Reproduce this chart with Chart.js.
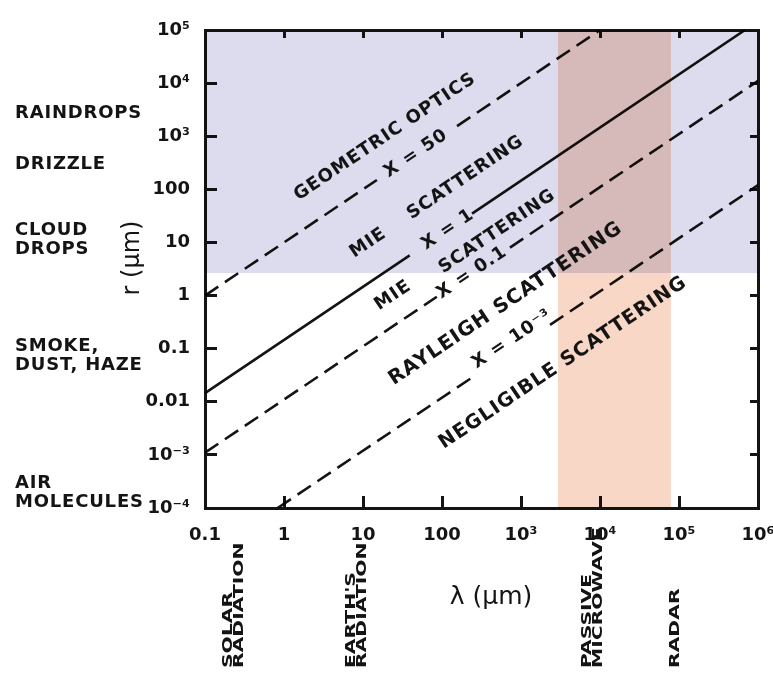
<!DOCTYPE html>
<html>
<head>
<meta charset="utf-8">
<script src="https://cdn.jsdelivr.net/npm/chart.js@4/dist/chart.umd.min.js"></script>
<style>
  html, body { margin: 0; padding: 0; background: #fff; }
  canvas { display: block; }
</style>
</head>
<body>
<canvas id="scatterChart" width="773" height="678"></canvas>
<script>
// Axis ticks (decades only)
const xTickValues = [0.1, 1, 10, 100, 1e3, 1e4, 1e5, 1e6];
const xTickLabels = ['0.1', '1', '10', '100', '10³', '10⁴', '10⁵', '10⁶'];
const yTickValues = [1e-4, 1e-3, 0.01, 0.1, 1, 10, 100, 1e3, 1e4, 1e5];
const yTickLabels = ['10⁻⁴', '10⁻³', '0.01', '0.1', '1', '10', '100', '10³', '10⁴', '10⁵'];

// Size parameter lines [lambda, r]; a null r breaks the line for its label
const lineX50 = [[0.1, 1], [15, 150], [40, null], [155, 1550], [1e4, 1e5]];
const lineX1 = [[0.1, 0.0146], [39, 5.7], [100, null], [240, 35], [6.85e5, 1e5]];
const lineX01 = [[0.1, 1.1e-3], [86, 0.95], [250, null], [725, 8.0], [1e6, 1.1e4]];
const lineX0001 = [[0.83, 1e-4], [277, 0.033], [800, null], [2330, 0.28], [1e6, 120]];

// Shaded bands
const cloudBandLambda = [0.1, 1e6];
const cloudBandR = [1e5, 1e5];
const cloudBandFloor = 2.65;
const microwaveBandLambda = [2940, 7.9e4];
const microwaveBandR = [1e5, 1e5];
const microwaveBandFloor = 1e-4;

// Text inside the plot (anchored in data coordinates)
const regionLabels = [
    { text: 'GEOMETRIC OPTICS', lambda: 19, r: 966 },
    { text: 'X = 50', lambda: 47, r: 470 },
    { text: 'MIE    SCATTERING', lambda: 86, r: 72 },
    { text: 'X = 1', lambda: 119, r: 17.5 },
    { text: 'SCATTERING', lambda: 500, r: 16 },
    { text: 'MIE', lambda: 24, r: 1.0 },
    { text: 'X = 0.1', lambda: 240, r: 2.7 },
    { text: 'RAYLEIGH SCATTERING', lambda: 640, r: 0.7, size: 20 },
    { text: 'X = 10⁻³', lambda: 770, r: 0.15 },
    { text: 'NEGLIGIBLE SCATTERING', lambda: 3400, r: 0.054, size: 19.5 }
];
const particleLabels = [
    { lines: ['RAINDROPS'], r: 2750 },
    { lines: ['DRIZZLE'], r: 290 },
    { lines: ['CLOUD', 'DROPS'], r: 11 },
    { lines: ['SMOKE,', 'DUST, HAZE'], r: 0.072 },
    { lines: ['AIR', 'MOLECULES'], r: 1.9e-4 }
];
const spectrumLabels = [
    { lines: ['SOLAR', 'RADIATION'], lambda: 0.23 },
    { lines: ["EARTH'S", 'RADIATION'], lambda: 8.4 },
    { lines: ['PASSIVE', 'MICROWAVE'], lambda: 8030 },
    { lines: ['RADAR'], lambda: 8.9e4 }
];

const FONT = '"DejaVu Sans", sans-serif';
const INK = '#141414';

function toPoints(pairs) {
    return pairs.map(p => ({ x: p[0], y: p[1] }));
}

function lineDataset(pairs, dash) {
    return {
        data: toPoints(pairs),
        borderColor: INK,
        borderWidth: 2.6,
        borderDash: dash,
        pointRadius: 0,
        fill: false,
        spanGaps: false,
        xAxisID: 'x',
        yAxisID: 'y'
    };
}

function bandDataset(lambdas, rs, floor, color) {
    return {
        data: lambdas.map((l, i) => ({ x: l, y: rs[i] })),
        borderWidth: 0,
        pointRadius: 0,
        backgroundColor: color,
        fill: { value: floor },
        xAxisID: 'x',
        yAxisID: 'y'
    };
}

function decadeTicks(values) {
    return function (axis) {
        axis.ticks = values.map(v => ({ value: v }));
    };
}

// keep the plot frame fixed: no extra room for overhanging tick labels
function fixSize(w, h) {
    return function (s) {
        if (w !== null) s.width = w;
        if (h !== null) s.height = h;
        s.paddingLeft = s.paddingRight = s.paddingTop = s.paddingBottom = 0;
    };
}

// overlapping bands are blended like printed ink
const blendPlugin = {
    id: 'blend',
    beforeDatasetsDraw(chart) { chart.ctx.globalCompositeOperation = 'multiply'; },
    afterDatasetsDraw(chart) { chart.ctx.globalCompositeOperation = 'source-over'; }
};

const textPlugin = {
    id: 'annotations',
    afterDraw(chart) {
        const ctx = chart.ctx;
        const x = chart.scales.x;
        const y = chart.scales.y;
        const angle = Math.atan2(y.getPixelForValue(10) - y.getPixelForValue(1),
                                 x.getPixelForValue(10) - x.getPixelForValue(1));
        ctx.save();
        ctx.fillStyle = INK;

        // labels along the lines
        ctx.letterSpacing = '1px';
        ctx.textAlign = 'center';
        ctx.textBaseline = 'middle';
        regionLabels.forEach(l => {
            ctx.font = 'bold ' + (l.size || 18) + 'px ' + FONT;
            ctx.save();
            ctx.translate(x.getPixelForValue(l.lambda), y.getPixelForValue(l.r));
            ctx.rotate(angle);
            ctx.fillText(l.text, 0, 0);
            ctx.restore();
        });

        // particle types at the left
        ctx.font = 'bold 18px ' + FONT;
        ctx.letterSpacing = '0.8px';
        ctx.textAlign = 'left';
        particleLabels.forEach(l => {
            const yc = y.getPixelForValue(l.r);
            const top = yc - (l.lines.length - 1) * 9.5;
            l.lines.forEach((t, i) => ctx.fillText(t, 15, top + i * 19));
        });

        // spectral regions below the x axis
        ctx.font = 'bold 14px ' + FONT;
        ctx.letterSpacing = '0px';
        ctx.textAlign = 'left';
        spectrumLabels.forEach(l => {
            const xc = x.getPixelForValue(l.lambda);
            const left = xc - (l.lines.length - 1) * 5.5;
            l.lines.forEach((t, i) => {
                ctx.save();
                ctx.translate(left + i * 11, chart.height - 10);
                ctx.rotate(-Math.PI / 2);
                ctx.scale(1.45, 1);
                ctx.fillText(t, 0, 0);
                ctx.restore();
            });
        });

        // axis titles
        ctx.textAlign = 'center';
        ctx.font = '25px ' + FONT;
        ctx.fillText('λ (μm)', 491, 597);
        ctx.font = '24px ' + FONT;
        ctx.save();
        ctx.translate(133, 258);
        ctx.rotate(-Math.PI / 2);
        ctx.fillText('r (μm)', 0, 0);
        ctx.restore();

        ctx.restore();
    }
};

const tickFont = { family: FONT, size: 18, weight: 'bold' };

new Chart(document.getElementById('scatterChart').getContext('2d'), {
    type: 'line',
    data: {
        datasets: [
            bandDataset(cloudBandLambda, cloudBandR, cloudBandFloor, '#dcdcee'),
            bandDataset(microwaveBandLambda, microwaveBandR, microwaveBandFloor, '#f9d7c6'),
            lineDataset(lineX50, [16, 8]),
            lineDataset(lineX1, []),
            lineDataset(lineX01, [16, 8]),
            lineDataset(lineX0001, [16, 8])
        ]
    },
    options: {
        responsive: false,
        animation: false,
        events: [],
        layout: { padding: { top: 30, right: 15, bottom: 130, left: 0 } },
        plugins: {
            legend: { display: false },
            tooltip: { enabled: false }
        },
        scales: {
            x: {
                type: 'logarithmic',
                position: 'bottom',
                min: 0.1,
                max: 1e6,
                afterBuildTicks: decadeTicks(xTickValues),
                afterFit: fixSize(null, 40),
                ticks: {
                    autoSkip: false,
                    maxRotation: 0,
                    padding: 29,
                    color: INK,
                    font: tickFont,
                    callback: (v, i) => xTickLabels[i]
                },
                grid: { drawOnChartArea: false, tickLength: -12, tickWidth: 3, tickColor: INK },
                border: { color: INK, width: 3 }
            },
            x2: {
                type: 'logarithmic',
                position: 'top',
                min: 0.1,
                max: 1e6,
                afterBuildTicks: decadeTicks(xTickValues),
                afterFit: fixSize(null, 0),
                ticks: { display: false },
                grid: { drawOnChartArea: false, tickLength: -8, tickWidth: 3, tickColor: INK },
                border: { color: INK, width: 3 }
            },
            y: {
                type: 'logarithmic',
                position: 'left',
                min: 1e-4,
                max: 1e5,
                afterBuildTicks: decadeTicks(yTickValues),
                afterFit: fixSize(205, null),
                ticks: {
                    autoSkip: false,
                    padding: 27,
                    color: INK,
                    font: tickFont,
                    callback: (v, i) => yTickLabels[i]
                },
                grid: { drawOnChartArea: false, tickLength: -12, tickWidth: 3, tickColor: INK },
                border: { color: INK, width: 3 }
            },
            y2: {
                type: 'logarithmic',
                position: 'right',
                min: 1e-4,
                max: 1e5,
                afterBuildTicks: decadeTicks(yTickValues),
                afterFit: fixSize(0, null),
                ticks: { display: false },
                grid: { drawOnChartArea: false, tickLength: -8, tickWidth: 3, tickColor: INK },
                border: { color: INK, width: 3 }
            }
        }
    },
    plugins: [blendPlugin, textPlugin]
});
</script>
</body>
</html>
